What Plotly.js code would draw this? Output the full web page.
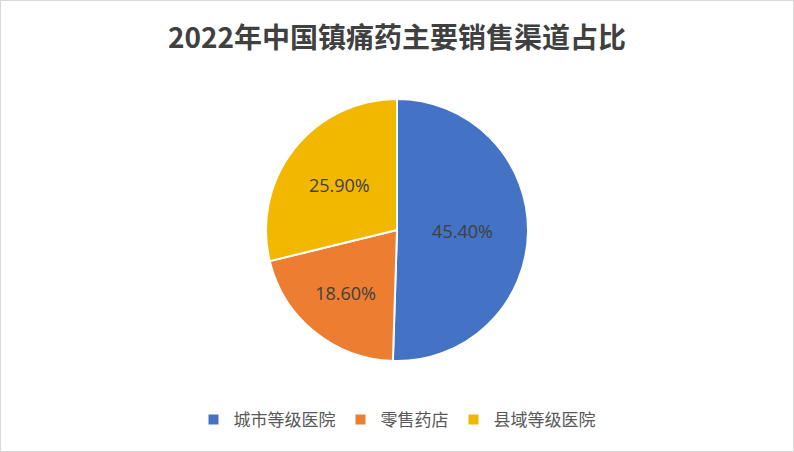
<!DOCTYPE html>
<html><head><meta charset="utf-8">
<script src="https://cdn.plot.ly/plotly-3.0.1.min.js"></script>
<style>
html,body{margin:0;padding:0;background:#fff;}
#wrap{position:relative;width:794px;height:452px;}
#chart{width:794px;height:452px;}
#frame{position:absolute;left:0;top:0;width:792px;height:450px;border:1px solid #d9d9d9;pointer-events:none;}
</style></head>
<body>
<div id="wrap"><div id="chart"></div><div id="frame"></div></div>
<script>
const titleText = '2022年中国镇痛药主要销售渠道占比';
const categories = ['城市等级医院', '零售药店', '县域等级医院'];
const values = [45.40, 18.60, 25.90];
const colors = ['#4472C4', '#ED7D31', '#F2B800'];

const labelTexts = values.map(v => v.toFixed(2) + '%');

const trace = {
  type: 'pie',
  labels: categories,
  values: values,
  text: labelTexts,
  textinfo: 'text',
  textposition: 'inside',
  insidetextorientation: 'horizontal',
  insidetextfont: {family: 'Open Sans, Noto Sans CJK SC, sans-serif', size: 18, color: '#404040'},
  sort: false,
  direction: 'clockwise',
  rotation: 0,
  marker: {colors: colors, line: {color: '#ffffff', width: 2}},
  domain: {x: [0.335, 0.665], y: [0.201, 0.781]},
  hoverinfo: 'label+text'
};

const layout = {
  width: 794, height: 452,
  margin: {l: 0, r: 0, t: 0, b: 0},
  paper_bgcolor: '#ffffff',
  title: {
    text: '<b>' + titleText + '</b>',
    font: {family: 'Noto Sans CJK SC, Open Sans, sans-serif', size: 28, color: '#404040'},
    x: 0.5, xanchor: 'center', xref: 'paper',
    y: 0.916, yanchor: 'middle', yref: 'container'
  },
  showlegend: true,
  legend: {
    orientation: 'h',
    x: 0.5, xanchor: 'center',
    y: 0.071, yanchor: 'middle',
    font: {family: 'Noto Sans CJK SC, sans-serif', size: 17, color: '#595959'},
    traceorder: 'normal',
    itemwidth: 30
  }
};

Plotly.newPlot('chart', [trace], layout, {displayModeBar: false, staticPlot: true});
</script>
</body></html>
